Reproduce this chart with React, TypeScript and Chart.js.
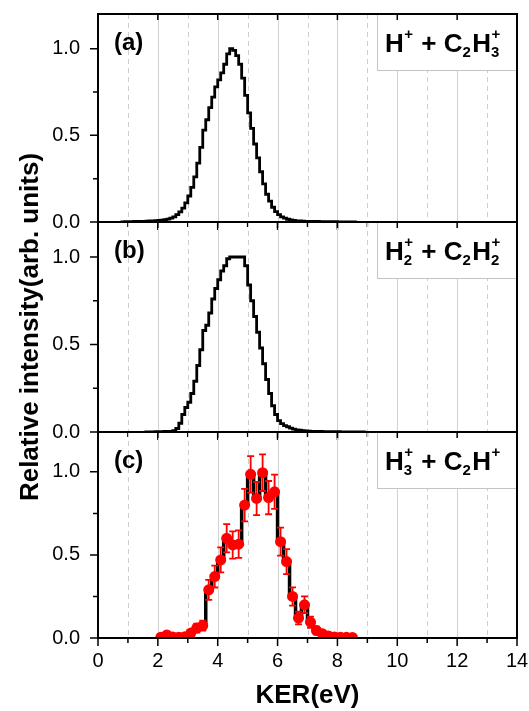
import React, { useEffect, useRef } from "react";
import { Chart, registerables } from "chart.js";

Chart.register(...registerables);

// ---------- data ----------
const X_MIN = 0;
const X_MAX = 14;
const X_TICKS = [0, 2, 4, 6, 8, 10, 12, 14];
const X_MINOR_TICKS = [1, 3, 5, 7, 9, 11, 13];
const Y_TICKS = [0, 0.5, 1.0];
const Y_MINOR_TICKS = [0.25, 0.75];

const BIN_WIDTH = 0.1;

// (a) H+ + C2H3+ histogram, bins of 0.1 eV starting at 0.7 eV
const A_FIRST_BIN = 0.7;
const A_VALUES = [
  0.001, 0.001, 0.002,
  0.002, 0.002, 0.003, 0.003, 0.004, 0.004, 0.005, 0.006, 0.007, 0.008,
  0.009, 0.011, 0.013, 0.017, 0.022, 0.030, 0.042, 0.058, 0.080, 0.110,
  0.150, 0.200, 0.260, 0.340, 0.430, 0.530, 0.590, 0.660, 0.720, 0.780,
  0.820, 0.860, 0.910, 0.970, 1.000, 0.990, 0.960, 0.910, 0.830, 0.730,
  0.630, 0.540, 0.450, 0.370, 0.290, 0.220, 0.160, 0.120, 0.085, 0.060,
  0.042, 0.030, 0.022, 0.016, 0.012, 0.009, 0.007, 0.006, 0.005, 0.004,
  0.004, 0.003, 0.003, 0.003, 0.002, 0.002, 0.002, 0.002, 0.002, 0.002,
  0.001, 0.001, 0.001, 0.001, 0.001, 0.001, 0.001,
];

// (b) H2+ + C2H2+ histogram, bins of 0.1 eV starting at 1.5 eV
const B_FIRST_BIN = 1.5;
const B_VALUES = [
  0.001, 0.001, 0.001, 0.001, 0.002, 0.002, 0.002, 0.003, 0.003, 0.004,
  0.008, 0.020, 0.050, 0.100, 0.140, 0.170, 0.220, 0.290, 0.380, 0.470,
  0.580, 0.610, 0.680, 0.760, 0.820, 0.870, 0.920, 0.950, 0.990, 1.000,
  1.000, 1.000, 1.000, 1.000, 0.950, 0.840, 0.750, 0.660, 0.570, 0.480,
  0.390, 0.300, 0.220, 0.150, 0.100, 0.065, 0.048, 0.037, 0.030, 0.022,
  0.016, 0.012, 0.010, 0.008, 0.006, 0.005, 0.004, 0.004, 0.003, 0.003,
  0.002, 0.002, 0.002, 0.002, 0.002, 0.002, 0.001, 0.001, 0.001, 0.001,
  0.001, 0.001, 0.001, 0.001, 0.001,
];

// (c) H3+ + C2H+ points with error bars
const C_KER = [
  2.1, 2.3, 2.5, 2.7, 2.9, 3.1, 3.3, 3.5, 3.7, 3.9, 4.1, 4.3, 4.5, 4.7, 4.9,
  5.1, 5.3, 5.5, 5.7, 5.9, 6.1, 6.3, 6.5, 6.7, 6.9, 7.1, 7.3, 7.5, 7.7, 7.9,
  8.1, 8.3, 8.5,
];
const C_VALUES = [
  0.005, 0.018, 0.006, 0.005, 0.008, 0.030, 0.060, 0.075, 0.290, 0.370, 0.470,
  0.600, 0.560, 0.565, 0.800, 0.985, 0.840, 0.995, 0.845, 0.880, 0.580, 0.460,
  0.250, 0.120, 0.200, 0.095, 0.045, 0.025, 0.012, 0.006, 0.005, 0.004, 0.003,
];
const C_ERRORS = [
  0.008, 0.015, 0.008, 0.008, 0.010, 0.019, 0.027, 0.030, 0.060, 0.066, 0.075,
  0.085, 0.082, 0.083, 0.098, 0.110, 0.100, 0.110, 0.100, 0.103, 0.084, 0.075,
  0.055, 0.038, 0.050, 0.034, 0.023, 0.017, 0.012, 0.008, 0.008, 0.007, 0.006,
];

const X_TITLE = "KER(eV)";
const Y_TITLE = "Relative intensity(arb. units)";
const PANEL_LABELS = ["(a)", "(b)", "(c)"];
type Seg = { t: string; sup?: string; sub?: string };
const LEGEND_A: Seg[] = [{ t: "H", sup: "+" }, { t: " + C", sub: "2" }, { t: "H", sup: "+", sub: "3" }];
const LEGEND_B: Seg[] = [{ t: "H", sup: "+", sub: "2" }, { t: " + C", sub: "2" }, { t: "H", sup: "+", sub: "2" }];
const LEGEND_C: Seg[] = [{ t: "H", sup: "+", sub: "3" }, { t: " + C", sub: "2" }, { t: "H", sup: "+" }];

// ---------- layout / style ----------
const PAGE_W = 529;
const PAGE_H = 711;
const PLOT_LEFT = 98;
const PLOT_RIGHT = 517;
const LEGEND_LEFT = 377;
const LEGEND_H = 56;
const FONT = '"Liberation Sans", Arial, Helvetica, sans-serif';

const PANELS = [
  { top: 14, bottom: 222, yMax: 1.2, label: PANEL_LABELS[0], legend: LEGEND_A },
  { top: 222, bottom: 432, yMax: 1.2, label: PANEL_LABELS[1], legend: LEGEND_B },
  { top: 432, bottom: 638, yMax: 1.24, label: PANEL_LABELS[2], legend: LEGEND_C },
];

function histPoints(first: number, values: number[]) {
  return values.map((v, i) => ({ x: first + BIN_WIDTH * (i + 0.5), y: v }));
}

function drawRich(ctx: CanvasRenderingContext2D, segs: Seg[], x: number, base: number) {
  const main = `bold 26px ${FONT}`;
  const small = `bold 15px ${FONT}`;
  ctx.fillStyle = "#000";
  ctx.textAlign = "left";
  ctx.textBaseline = "alphabetic";
  for (const s of segs) {
    ctx.font = main;
    ctx.fillText(s.t, x, base);
    x += ctx.measureText(s.t).width;
    ctx.font = small;
    let w = 0;
    if (s.sup) {
      ctx.fillText(s.sup, x + 0.5, base - 13);
      w = Math.max(w, ctx.measureText(s.sup).width);
    }
    if (s.sub) {
      ctx.fillText(s.sub, x, base + 5);
      w = Math.max(w, ctx.measureText(s.sub).width);
    }
    x += w + 1.5;
  }
}

function makeDecor(panel: (typeof PANELS)[number], idx: number) {
  return {
    id: "decor" + idx,
    beforeDatasetsDraw(chart: any) {
      const { ctx, chartArea: ca } = chart;
      const xs = chart.scales.x;
      ctx.save();
      ctx.beginPath();
      ctx.rect(ca.left, ca.top, ca.right - ca.left, ca.bottom - ca.top);
      ctx.clip();
      ctx.lineWidth = 1;
      for (const v of X_TICKS) {
        if (v <= X_MIN || v >= X_MAX) continue;
        const px = Math.round(xs.getPixelForValue(v)) + 0.5;
        ctx.strokeStyle = "#d2d2d2";
        ctx.setLineDash([]);
        ctx.beginPath();
        ctx.moveTo(px, ca.top);
        ctx.lineTo(px, ca.bottom);
        ctx.stroke();
      }
      for (const v of X_MINOR_TICKS) {
        const px = Math.round(xs.getPixelForValue(v)) + 0.5;
        ctx.strokeStyle = "#cfcfcf";
        ctx.setLineDash([5, 4]);
        ctx.beginPath();
        ctx.moveTo(px, ca.top);
        ctx.lineTo(px, ca.bottom);
        ctx.stroke();
      }
      ctx.restore();
    },
    afterDatasetDraw(chart: any, args: any) {
      if (idx !== 2 || args.index !== 1) return;
      const { ctx } = chart;
      const xs = chart.scales.x;
      const ys = chart.scales.y;
      ctx.save();
      ctx.strokeStyle = "#ff0000";
      ctx.lineWidth = 1.8;
      C_KER.forEach((k, i) => {
        const px = xs.getPixelForValue(k);
        const y1 = ys.getPixelForValue(C_VALUES[i] + C_ERRORS[i]);
        const y2 = ys.getPixelForValue(Math.max(0, C_VALUES[i] - C_ERRORS[i]));
        ctx.beginPath();
        ctx.moveTo(px, y1);
        ctx.lineTo(px, y2);
        ctx.moveTo(px - 3.5, y1);
        ctx.lineTo(px + 3.5, y1);
        ctx.moveTo(px - 3.5, y2);
        ctx.lineTo(px + 3.5, y2);
        ctx.stroke();
      });
      ctx.restore();
    },
    afterDraw(chart: any) {
      const { ctx, chartArea: ca } = chart;
      const xs = chart.scales.x;
      const ys = chart.scales.y;
      ctx.save();
      // legend box
      ctx.fillStyle = "#fff";
      ctx.fillRect(LEGEND_LEFT, ca.top, ca.right - LEGEND_LEFT, LEGEND_H);
      ctx.strokeStyle = "#c4c4c4";
      ctx.lineWidth = 1;
      ctx.strokeRect(LEGEND_LEFT + 0.5, ca.top + 0.5, ca.right - LEGEND_LEFT - 1, LEGEND_H);
      drawRich(ctx, panel.legend, LEGEND_LEFT + 8, ca.top + 38);
      // panel label
      ctx.font = `bold 24px ${FONT}`;
      ctx.fillStyle = "#000";
      ctx.textAlign = "left";
      ctx.textBaseline = "alphabetic";
      ctx.fillText(panel.label, 114, ca.top + 36);
      // frame
      ctx.fillStyle = "#000";
      const w = ca.right - ca.left;
      const h = ca.bottom - ca.top;
      ctx.fillRect(ca.left - 1, ca.top - 1, w + 2, 2);
      ctx.fillRect(ca.left - 1, ca.bottom - 1, w + 2, 2);
      ctx.fillRect(ca.left - 1, ca.top - 1, 2, h + 2);
      ctx.fillRect(ca.right - 1, ca.top - 1, 2, h + 2);
      // ticks
      ctx.strokeStyle = "#000";
      ctx.lineWidth = 1.5;
      ctx.beginPath();
      for (const v of X_TICKS) {
        const px = xs.getPixelForValue(v);
        ctx.moveTo(px, ca.bottom);
        ctx.lineTo(px, ca.bottom + 8);
        ctx.moveTo(px, ca.top);
        ctx.lineTo(px, ca.top + 6);
      }
      for (const v of X_MINOR_TICKS) {
        const px = xs.getPixelForValue(v);
        ctx.moveTo(px, ca.bottom);
        ctx.lineTo(px, ca.bottom + 5);
      }
      for (const v of Y_TICKS) {
        const py = ys.getPixelForValue(v);
        ctx.moveTo(ca.left, py);
        ctx.lineTo(ca.left - 8, py);
      }
      for (const v of Y_MINOR_TICKS) {
        const py = ys.getPixelForValue(v);
        ctx.moveTo(ca.left, py);
        ctx.lineTo(ca.left - 5, py);
      }
      ctx.stroke();
      ctx.restore();
    },
  };
}

function buildConfig(panel: (typeof PANELS)[number], idx: number): any {
  const isC = idx === 2;
  const isB = idx === 1;
  const datasets: any[] = [];
  if (isC) {
    const pts = C_KER.map((x, i) => ({ x, y: C_VALUES[i] }));
    datasets.push({
      type: "scatter",
      data: pts,
      showLine: false,
      pointRadius: 5.5,
      pointHoverRadius: 5.5,
      pointBackgroundColor: "#ff0000",
      pointBorderColor: "#ff0000",
      pointBorderWidth: 0,
      order: 0,
    });
    datasets.push({
      type: "line",
      data: pts,
      borderColor: "#000",
      borderWidth: 3.5,
      pointRadius: 0,
      stepped: "middle",
      fill: false,
      order: 1,
    });
  } else {
    const pts = idx === 0 ? histPoints(A_FIRST_BIN, A_VALUES) : histPoints(B_FIRST_BIN, B_VALUES);
    datasets.push({
      type: "line",
      data: pts,
      borderColor: "#000",
      borderWidth: 2.8,
      pointRadius: 0,
      stepped: "middle",
      fill: false,
    });
  }
  return {
    type: "line",
    data: { datasets },
    options: {
      responsive: false,
      maintainAspectRatio: false,
      animation: false,
      events: [],
      layout: {
        padding: {
          top: panel.top,
          bottom: isC ? 0 : PAGE_H - panel.bottom,
          left: 0,
          right: PAGE_W - PLOT_RIGHT,
        },
      },
      plugins: { legend: { display: false }, tooltip: { enabled: false } },
      scales: {
        x: {
          type: "linear",
          min: X_MIN,
          max: X_MAX,
          display: isC,
          afterBuildTicks: (s: any) => {
            s.ticks = X_TICKS.map((v) => ({ value: v }));
          },
          afterFit: (s: any) => {
            s.height = isC ? PAGE_H - panel.bottom : 0;
            s.paddingLeft = 0;
            s.paddingRight = 0;
          },
          grid: { display: true, drawOnChartArea: false, drawTicks: true, tickLength: 8, tickColor: "rgba(0,0,0,0)" },
          border: { display: false },
          ticks: {
            display: isC,
            color: "#000",
            font: { family: FONT, size: 20 },
            padding: 3,
            maxRotation: 0,
            autoSkip: false,
          },
          title: {
            display: isC,
            text: X_TITLE,
            color: "#000",
            font: { family: FONT, size: 26, weight: "bold" },
            padding: { top: 0, bottom: 0 },
          },
        },
        y: {
          type: "linear",
          min: 0,
          max: panel.yMax,
          afterBuildTicks: (s: any) => {
            s.ticks = Y_TICKS.map((v) => ({ value: v }));
          },
          afterFit: (s: any) => {
            s.width = PLOT_LEFT;
            s.paddingTop = 0;
            s.paddingBottom = 0;
          },
          grid: { display: true, drawOnChartArea: false, drawTicks: true, tickLength: 8, tickColor: "rgba(0,0,0,0)" },
          border: { display: false },
          ticks: {
            color: "#000",
            font: { family: FONT, size: 20 },
            padding: 10,
            callback: (v: any) => Number(v).toFixed(1),
          },
          title: {
            display: isB,
            text: Y_TITLE,
            color: "#000",
            font: { family: FONT, size: 26, weight: "bold" },
            padding: { top: 15, bottom: 0 },
          },
        },
      },
    },
    plugins: [makeDecor(panel, idx)],
  };
}

export default function App() {
  const refs = useRef<(HTMLCanvasElement | null)[]>([]);
  useEffect(() => {
    const charts = PANELS.map((p, i) => new Chart(refs.current[i] as HTMLCanvasElement, buildConfig(p, i)));
    return () => charts.forEach((c) => c.destroy());
  }, []);
  return (
    <div style={{ position: "absolute", left: 0, top: 0, width: PAGE_W, height: PAGE_H, background: "#fff", overflow: "hidden" }}>
      {PANELS.map((_, i) => (
        <canvas
          key={i}
          ref={(el) => {
            refs.current[i] = el;
          }}
          width={PAGE_W}
          height={PAGE_H}
          style={{ position: "absolute", left: 0, top: 0, display: "block" }}
        />
      ))}
    </div>
  );
}
